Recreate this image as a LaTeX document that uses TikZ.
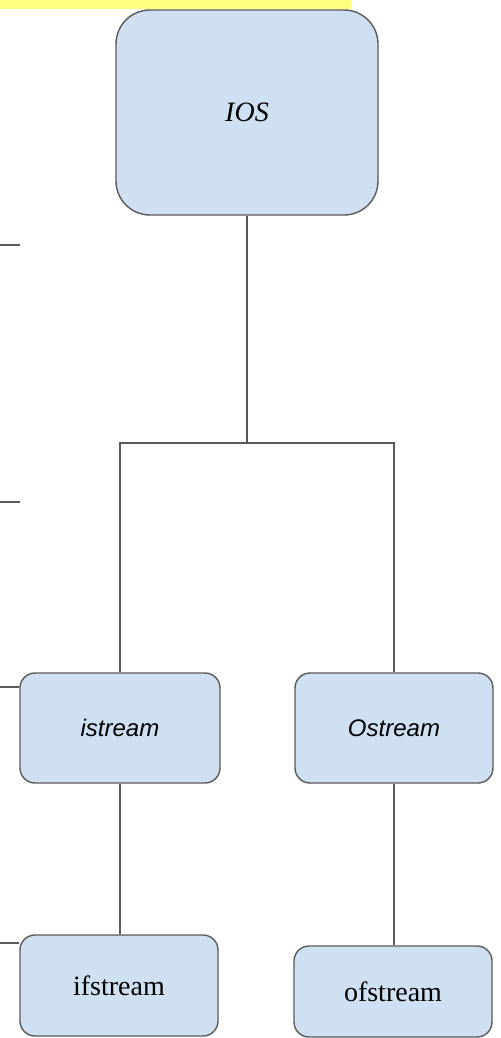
\documentclass[tikz,border=0pt]{standalone}
\usepackage{fontspec}
\setmainfont{Liberation Serif}
\newfontfamily\boxsans{Liberation Sans}
\usepackage{xcolor}
\usepackage{tikz}
\usetikzlibrary{calc}
\definecolor{boxfill}{RGB}{206,224,242}
\definecolor{boxline}{RGB}{90,90,90}
\definecolor{barfill}{RGB}{255,255,128}
\tikzset{
	classbox/.style={draw=boxline,line width=0.7pt,fill=boxfill,rounded corners=7.5pt,
		minimum width=99pt,minimum height=55pt,inner sep=0pt},
	link/.style={draw=boxline,line width=0.6pt}
}

\begin{document}
\begin{tikzpicture}[x=0.5pt,y=-0.5pt]
					\useasboundingbox (0,0) rectangle (500,1038);
					\fill[barfill] (0,0) rectangle (351,9);
					
					\node (ios) at (247,112.5) [classbox,minimum width=131pt,minimum height=102.5pt,rounded corners=17pt] {\fontsize{14}{16}\selectfont\itshape IOS};
					\node (istream) at (120,728) [classbox,minimum width=100pt] {\boxsans\fontsize{12}{14}\selectfont\itshape istream};
					\node (ostream) at (394,728) [classbox] {\boxsans\fontsize{12}{14}\selectfont\itshape Ostream};
					\node (ifstream) at (119,985.5) [classbox,minimum height=50.5pt] {\fontsize{14}{16}\selectfont ifstream};
					\node (ofstream) at (393,991.5) [classbox,minimum height=45.5pt] {\fontsize{14}{16}\selectfont ofstream};
					
					\coordinate (jn) at (247,443);
					\draw[link] (ios) -- (jn);
					\draw[link] (istream) |- (jn) -| (ostream);
					\draw[link] (istream.south) -- (istream.south |- ifstream.north);
					\draw[link] (ostream.south) -- (ostream.south |- ofstream.north);
					
					\coordinate (s1) at (0,245);
					\coordinate (s2) at (0,502);
					\coordinate (s3) at (0,687);
					\coordinate (s4) at (0,943);
					\draw[link] (s1) -- ++(20,0);
					\draw[link] (s2) -- ++(20,0);
					\draw[link] (s3) -- (s3 -| istream.west);
					\draw[link] (s4) -- (s4 -| ifstream.west);
				\end{tikzpicture}
\end{document}
